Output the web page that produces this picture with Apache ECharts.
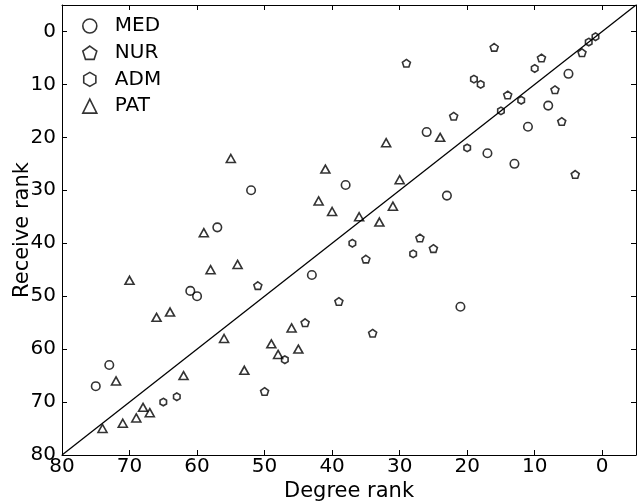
<!DOCTYPE html>
<html>
<head>
<meta charset="utf-8">
<script src="https://cdn.jsdelivr.net/npm/echarts@6/dist/echarts.min.js"></script>
<style>
  html, body { margin: 0; padding: 0; background: #fff; }
  #main { width: 638px; height: 504px; }
</style>
</head>
<body>
<div id="main"></div>
<script>
// 数据: [degree rank, receive rank]
var medData = [[5, 8], [8, 14], [11, 18], [13, 25], [17, 23], [23, 31], [26, 19], [21, 52],
  [43, 46], [52, 30], [38, 29], [57, 37], [61, 49], [60, 50], [73, 63], [75, 67]];
var nurData = [[3, 4], [7, 11], [6, 17], [4, 27], [9, 5], [14, 12], [16, 3], [22, 16], [29, 6],
  [27, 39], [25, 41], [35, 43], [34, 57], [39, 51], [44, 55], [50, 68], [51, 48]];
var admData = [[1, 1], [2, 2], [10, 7], [12, 13], [15, 15], [19, 9], [18, 10], [20, 22],
  [37, 40], [28, 42], [47, 62], [65, 70], [63, 69]];
var patData = [[24, 20], [32, 21], [30, 28], [31, 33], [36, 35], [33, 36], [46, 56], [49, 59],
  [48, 61], [45, 60], [53, 64], [56, 58], [58, 45], [54, 44], [55, 24], [41, 26], [42, 32],
  [40, 34], [59, 38], [70, 47], [66, 54], [64, 53], [72, 66], [62, 65], [68, 71], [67, 72],
  [69, 73], [71, 74], [74, 75]];
var diagLine = [[80, 80], [-5, -5]];
var tickValues = [0, 10, 20, 30, 40, 50, 60, 70, 80];

var pentagon = 'path://M0,-1 L0.951,-0.309 L0.588,0.809 L-0.588,0.809 L-0.951,-0.309 Z';
var hexagon = 'path://M0,-1 L0.866,-0.5 L0.866,0.5 L0,1 L-0.866,0.5 L-0.866,-0.5 Z';

var font = 'DejaVu Sans';
var markStyle = { color: 'transparent', borderColor: '#000', borderWidth: 1.6 };

var myChart = echarts.init(document.getElementById('main'));

// 坐标轴公共设置
const axisBase = (extra) => Object.assign({
    type: 'value',
    min: -5,
    max: 80,
    inverse: true,
    splitLine: { show: false },
    axisLine: { show: true, onZero: false, lineStyle: { color: '#000', width: 1 } },
    axisTick: { show: true, inside: true, length: 5, customValues: tickValues, lineStyle: { color: '#000' } },
    axisLabel: { show: false, customValues: tickValues }
}, extra);

const option = {
    animation: false,
    backgroundColor: '#fff',
    textStyle: { fontFamily: font },
    grid: { left: 62, right: 2, top: 5, bottom: 49, outerBoundsMode: 'none', containLabel: false },
    legend: {
        orient: 'vertical',
        left: 77,
        top: 11,
        itemWidth: 14,
        itemHeight: 14,
        itemGap: 6.7,
        textStyle: { fontFamily: font, fontSize: 20, color: '#000', padding: [0, 0, 0, 13] },
        data: [
            { name: 'MED', icon: 'circle', itemStyle: markStyle },
            { name: 'NUR', icon: pentagon, itemStyle: markStyle },
            { name: 'ADM', icon: hexagon, itemStyle: markStyle },
            { name: 'PAT', icon: 'triangle', itemStyle: markStyle }
        ]
    },
    xAxis: [
        axisBase({
            position: 'bottom',
            name: 'Degree rank',
            nameLocation: 'middle',
            nameGap: 26,
            nameMoveOverlap: false,
            nameTextStyle: { fontFamily: font, fontSize: 21, color: '#000' },
            axisLabel: { show: true, customValues: tickValues, margin: 2, fontFamily: font, fontSize: 20, color: '#000' }
        }),
        axisBase({ position: 'top' })
    ],
    yAxis: [
        axisBase({
            position: 'left',
            name: 'Receive rank',
            nameLocation: 'middle',
            nameGap: 29,
            nameMoveOverlap: false,
            nameTextStyle: { fontFamily: font, fontSize: 21, color: '#000' },
            axisLabel: { show: true, customValues: tickValues, margin: 6, fontFamily: font, fontSize: 20, color: '#000' }
        }),
        axisBase({ position: 'right' })
    ],
    series: [
        {
            name: 'diag',
            type: 'line',
            data: diagLine,
            symbol: 'none',
            lineStyle: { color: '#000', width: 1.3 },
            silent: true
        },
        { name: 'MED', type: 'scatter', data: medData, symbol: 'circle', symbolSize: 8.5, itemStyle: markStyle },
        { name: 'NUR', type: 'scatter', data: nurData, symbol: pentagon, symbolSize: 8, symbolKeepAspect: true, itemStyle: markStyle },
        { name: 'ADM', type: 'scatter', data: admData, symbol: hexagon, symbolSize: 7.5, symbolKeepAspect: true, itemStyle: markStyle },
        { name: 'PAT', type: 'scatter', data: patData, symbol: 'triangle', symbolSize: [9, 8], itemStyle: markStyle }
    ]
};

myChart.setOption(option);
</script>
</body>
</html>
